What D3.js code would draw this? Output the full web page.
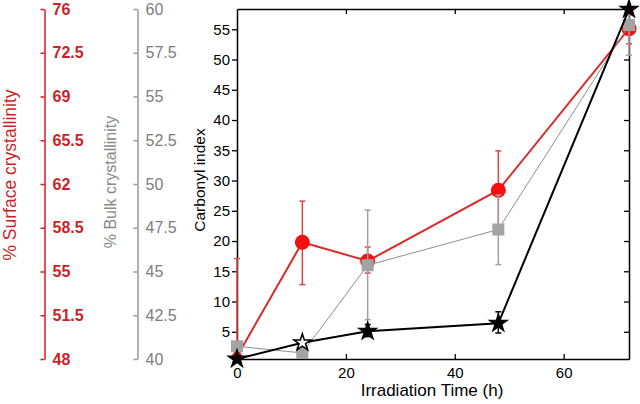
<!DOCTYPE html>
<html><head><meta charset="utf-8">
<script src="https://cdn.jsdelivr.net/npm/d3@7"></script>
<style>body{margin:0;background:#fff}svg{display:block;font-family:"Liberation Sans",Arial,sans-serif}</style>
</head><body><svg id="c" width="640" height="404"></svg>
<script>
// ---- data ----
const times = [0, 12, 24, 48, 72];
const surface = [0.9, 19.8, 16.7, 28.4, 55.1];
const surfaceLo = [0.5, 12.8, 14.7, 21.8, 52.6];
const surfaceHi = [17.1, 26.6, 19.0, 34.9, 57.4];
const bulk = [2.6, 1.5, 16.0, 21.9, 55.7];
const bulkLo = [2.6, 1.5, 7.0, 16.1, 50.7];
const bulkHi = [2.6, 1.5, 25.1, 27.6, 58.0];
const carbonyl = [0.5, 3.2, 5.1, 6.4, 58.3];
const carbonylLo = [0.5, 3.2, 4.2, 4.8, 58.3];
const carbonylHi = [0.5, 3.2, 6.2, 8.3, 58.3];
const xTicks = [0, 20, 40, 60];
const yTicks = [5, 10, 15, 20, 25, 30, 35, 40, 45, 50, 55];
const surfTicks = [48, 51.5, 55, 58.5, 62, 65.5, 69, 72.5, 76];
const bulkTicks = [40, 42.5, 45, 47.5, 50, 52.5, 55, 57.5, 60];

const svg = d3.select("#c");
const L = 237, R = 629, T = 9, B = 359;
const x = d3.scaleLinear().domain([0, 72]).range([L, R]);
const y = d3.scaleLinear().domain([0.5, 58.35]).range([B, T]);
const ys = d3.scaleLinear().domain([48, 76]).range([B, T]);
const yb = d3.scaleLinear().domain([40, 60]).range([B, T]);

const RED = "#da1a22", GRAY = "#9a9a9a";

// left red axis
const ra = svg.append("g").attr("transform", "translate(44.5,0)")
  .call(d3.axisRight(ys).tickValues(surfTicks).tickSizeInner(-4).tickSizeOuter(0).tickPadding(8).tickFormat(d => String(d)));
ra.select(".domain").attr("stroke", RED).attr("stroke-width", 1.5);
ra.selectAll(".tick line").attr("stroke", RED).attr("stroke-width", 1.5);
ra.selectAll(".tick text").attr("fill", "#cc1f28").attr("font-size", 16).attr("font-weight", "bold").attr("font-family", "Liberation Sans, Arial, sans-serif");

// gray axis
const ga = svg.append("g").attr("transform", "translate(137.5,0)")
  .call(d3.axisRight(yb).tickValues(bulkTicks).tickSizeInner(-4).tickSizeOuter(0).tickPadding(8).tickFormat(d => String(d)));
ga.select(".domain").attr("stroke", GRAY).attr("stroke-width", 1.5);
ga.selectAll(".tick line").attr("stroke", GRAY).attr("stroke-width", 1.5);
ga.selectAll(".tick text").attr("fill", "#7d7d7d").attr("font-size", 16).attr("font-family", "Liberation Sans, Arial, sans-serif");

// titles
svg.append("text").attr("transform", "translate(16,175) rotate(-90)").attr("text-anchor", "middle")
  .attr("fill", "#cc1f28").attr("font-size", 17.5).text("% Surface crystallinity");
svg.append("text").attr("transform", "translate(116,182) rotate(-90)").attr("text-anchor", "middle")
  .attr("fill", "#8a8a8a").attr("font-size", 16).text("% Bulk crystallinity");
svg.append("text").attr("transform", "translate(205,180) rotate(-90)").attr("text-anchor", "middle")
  .attr("fill", "#000").attr("font-size", 15.5).text("Carbonyl index");
svg.append("text").attr("x", 432).attr("y", 396).attr("text-anchor", "middle")
  .attr("fill", "#000").attr("font-size", 17).text("Irradiation Time (h)");

// main axes
function style(g) {
  g.select(".domain").attr("stroke", "#000").attr("stroke-width", 1.5);
  g.selectAll(".tick line").attr("stroke", "#000").attr("stroke-width", 1.3);
  g.selectAll(".tick text").attr("fill", "#000").attr("font-size", 15).attr("font-family", "Liberation Sans, Arial, sans-serif");
}
svg.append("g").attr("transform", `translate(0,${B})`)
  .call(d3.axisBottom(x).tickValues(xTicks).tickSizeInner(-5).tickSizeOuter(0).tickPadding(8)).call(style);
svg.append("g").attr("transform", `translate(0,${T})`)
  .call(d3.axisBottom(x).tickValues(xTicks.slice(1)).tickSizeInner(5).tickSizeOuter(0).tickFormat("")).call(style);
svg.append("g").attr("transform", `translate(${L},0)`)
  .call(d3.axisLeft(y).tickValues(yTicks).tickSizeInner(5).tickSizeOuter(0).tickPadding(2)).call(style);
svg.append("g").attr("transform", `translate(${R},0)`)
  .call(d3.axisLeft(y).tickValues(yTicks).tickSizeInner(5).tickSizeOuter(0).tickFormat("")).call(style);

function series(vals, lo, hi, lineColor, lw, errColor, drawMarker) {
  const g = svg.append("g");
  const pts = times.map((t, i) => ({t, v: vals[i], lo: lo[i], hi: hi[i], i}));
  g.append("path").datum(pts).attr("fill", "none").attr("stroke", lineColor).attr("stroke-width", lw)
    .attr("d", d3.line().x(d => x(d.t)).y(d => y(d.v)));
  pts.filter(d => d.hi - d.lo > 0.01).forEach(d => {
    const cx = x(d.t);
    g.append("line").attr("x1", cx).attr("x2", cx).attr("y1", y(d.lo)).attr("y2", y(d.hi)).attr("stroke", errColor).attr("stroke-width", 1.5);
    [d.lo, d.hi].forEach(v => g.append("line").attr("x1", cx - 3).attr("x2", cx + 3).attr("y1", y(v)).attr("y2", y(v)).attr("stroke", errColor).attr("stroke-width", 1.5));
  });
  pts.forEach(d => drawMarker(g, d));
}

series(surface, surfaceLo, surfaceHi, "#dc2a2a", 2, "#e04545", (g, d) => {
  g.append("circle").attr("cx", x(d.t)).attr("cy", y(d.v)).attr("r", d.i === 0 ? 5 : 7.5).attr("fill", "#f50f0f");
});
series(bulk, bulkLo, bulkHi, "#8f8f8f", 1, "#a0a0a0", (g, d) => {
  g.append("rect").attr("x", x(d.t) - 6).attr("y", y(d.v) - 6).attr("width", 12).attr("height", 12).attr("fill", "#a3a3a3");
});
series(carbonyl, carbonylLo, carbonylHi, "#000", 2, "#000", (g, d) => {
  g.append("path").attr("transform", `translate(${x(d.t)},${y(d.v)})`)
    .attr("d", d3.symbol().type(d3.symbolStar).size(90)())
    .attr("fill", d.i === 1 ? "#fff" : "#000").attr("stroke", "#000").attr("stroke-width", 1.5);
});
</script></body></html>
